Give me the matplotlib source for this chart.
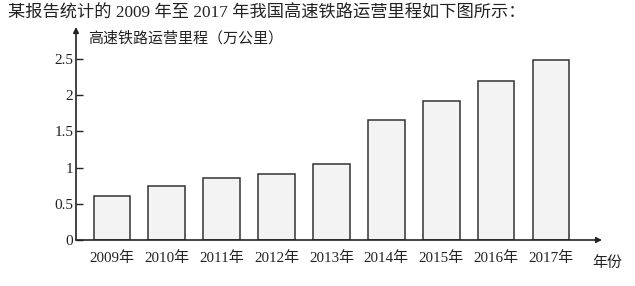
import matplotlib
matplotlib.use("Agg")
import matplotlib.pyplot as plt

# values (万公里)
years = ["2009年", "2010年", "2011年", "2012年", "2013年",
         "2014年", "2015年", "2016年", "2017年"]
mileage = [0.61, 0.74, 0.85, 0.91, 1.05, 1.65, 1.92, 2.19, 2.49]
y_ticks = [0, 0.5, 1, 1.5, 2, 2.5]
y_tick_labels = ["0", "0.5", "1", "1.5", "2", "2.5"]

title = "某报告统计的 2009 年至 2017 年我国高速铁路运营里程如下图所示："
y_title = "高速铁路运营里程（万公里）"
x_title = "年份"

plt.rcParams["font.family"] = ["Liberation Serif", "Noto Sans CJK SC"]
ink = "#222222"

fig = plt.figure(figsize=(6.35, 2.86), dpi=100)
ax = fig.add_axes([76 / 635, 46 / 286, 526 / 635, 213 / 286])

xs = list(range(len(years)))
ax.bar(xs, mileage, width=0.67, color="#f3f3f3", edgecolor="#333333", linewidth=1.1)

ax.set_xlim(-0.656, 8.93)
ax.set_ylim(0, 2.94)
ax.set_yticks(y_ticks)
ax.set_yticklabels(y_tick_labels, fontsize=11, color=ink)
ax.set_xticks(xs)
ax.set_xticklabels(years, fontsize=10.8, color=ink)
ax.tick_params(axis="y", direction="in", length=5, width=1, color=ink, pad=2)
ax.tick_params(axis="x", length=0, pad=8)

for side in ["top", "right", "left", "bottom"]:
    ax.spines[side].set_visible(False)

arrow = dict(arrowstyle="-|>", color=ink, lw=1.2, mutation_scale=8, shrinkA=0, shrinkB=0)
ax.annotate("", xy=(1, 0), xytext=(0, 0), xycoords="axes fraction", arrowprops=arrow)
ax.annotate("", xy=(0, 1), xytext=(0, 0), xycoords="axes fraction", arrowprops=arrow)

fig.text(8 / 635, 1 - 13 / 286, title, fontsize=12.4, color=ink, va="center", ha="left")
fig.text(88 / 635, 1 - 38 / 286, y_title, fontsize=10.8, color=ink, va="center", ha="left")
fig.text(592 / 635, 1 - 263 / 286, x_title, fontsize=10.8, color=ink, va="center", ha="left")

fig.savefig("out.png", dpi=100)
plt.close(fig)
